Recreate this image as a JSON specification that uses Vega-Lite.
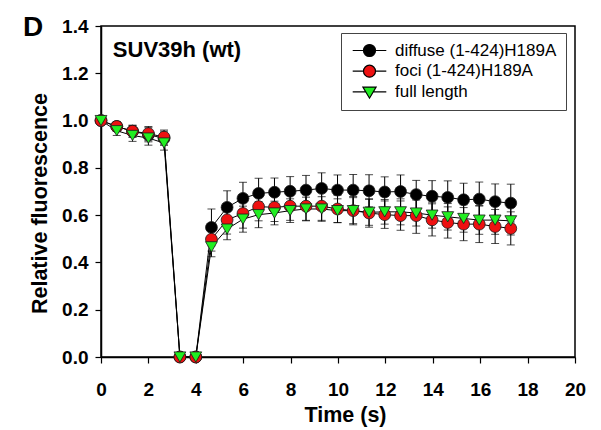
{
  "$schema": "https://vega.github.io/schema/vega-lite/v6.json",
  "width": 474,
  "height": 331,
  "autosize": {"type": "none"},
  "padding": {"left": 101, "top": 26, "right": 26, "bottom": 73},
  "background": "white",
  "title": {
    "text": "D",
    "anchor": "start",
    "frame": "group",
    "fontSize": 28,
    "fontWeight": "bold",
    "font": "Liberation Sans",
    "color": "black",
    "baseline": "alphabetic",
    "dx": -78,
    "dy": 47,
    "offset": 0
  },
  "config": {
    "view": {"stroke": "black", "strokeWidth": 1.5},
    "axis": {
      "domainColor": "black",
      "domainWidth": 1.5,
      "tickColor": "black",
      "tickWidth": 1.2,
      "tickSize": 6,
      "grid": false,
      "labelFont": "Liberation Sans",
      "labelFontSize": 19,
      "labelFontWeight": "bold",
      "labelColor": "black",
      "titleFont": "Liberation Sans",
      "titleFontSize": 21.5,
      "titleFontWeight": "bold",
      "titleColor": "black"
    },
    "legend": {
      "labelFont": "Liberation Sans",
      "labelFontSize": 17,
      "labelColor": "black",
      "labelLimit": 300
    }
  },
  "resolve": {"scale": {"shape": "independent", "color": "independent"}},
  "datasets": {
    "frap": [
      {"t": 0, "s": "diffuse (1-424)H189A", "v": 1.0, "e": 0.01},
      {"t": 0.665, "s": "diffuse (1-424)H189A", "v": 0.975, "e": 0.02},
      {"t": 1.33, "s": "diffuse (1-424)H189A", "v": 0.955, "e": 0.025},
      {"t": 2.0, "s": "diffuse (1-424)H189A", "v": 0.94, "e": 0.03},
      {"t": 2.66, "s": "diffuse (1-424)H189A", "v": 0.925, "e": 0.03},
      {"t": 3.33, "s": "diffuse (1-424)H189A", "v": 0.0, "e": 0.0},
      {"t": 4.0, "s": "diffuse (1-424)H189A", "v": 0.0, "e": 0.0},
      {"t": 4.66, "s": "diffuse (1-424)H189A", "v": 0.548, "e": 0.078},
      {"t": 5.32, "s": "diffuse (1-424)H189A", "v": 0.633, "e": 0.07},
      {"t": 5.99, "s": "diffuse (1-424)H189A", "v": 0.671, "e": 0.068},
      {"t": 6.65, "s": "diffuse (1-424)H189A", "v": 0.692, "e": 0.064},
      {"t": 7.32, "s": "diffuse (1-424)H189A", "v": 0.697, "e": 0.06},
      {"t": 7.98, "s": "diffuse (1-424)H189A", "v": 0.701, "e": 0.062},
      {"t": 8.65, "s": "diffuse (1-424)H189A", "v": 0.706, "e": 0.062},
      {"t": 9.31, "s": "diffuse (1-424)H189A", "v": 0.713, "e": 0.066},
      {"t": 9.98, "s": "diffuse (1-424)H189A", "v": 0.706, "e": 0.064},
      {"t": 10.64, "s": "diffuse (1-424)H189A", "v": 0.706, "e": 0.066},
      {"t": 11.31, "s": "diffuse (1-424)H189A", "v": 0.703, "e": 0.068},
      {"t": 11.97, "s": "diffuse (1-424)H189A", "v": 0.698, "e": 0.064},
      {"t": 12.64, "s": "diffuse (1-424)H189A", "v": 0.7, "e": 0.07},
      {"t": 13.3, "s": "diffuse (1-424)H189A", "v": 0.687, "e": 0.06},
      {"t": 13.97, "s": "diffuse (1-424)H189A", "v": 0.68, "e": 0.066},
      {"t": 14.63, "s": "diffuse (1-424)H189A", "v": 0.675, "e": 0.07},
      {"t": 15.3, "s": "diffuse (1-424)H189A", "v": 0.665, "e": 0.07},
      {"t": 15.96, "s": "diffuse (1-424)H189A", "v": 0.668, "e": 0.072},
      {"t": 16.63, "s": "diffuse (1-424)H189A", "v": 0.657, "e": 0.075},
      {"t": 17.29, "s": "diffuse (1-424)H189A", "v": 0.651, "e": 0.08},
      {"t": 0, "s": "foci (1-424)H189A", "v": 1.0, "e": 0.01},
      {"t": 0.665, "s": "foci (1-424)H189A", "v": 0.975, "e": 0.02},
      {"t": 1.33, "s": "foci (1-424)H189A", "v": 0.955, "e": 0.025},
      {"t": 2.0, "s": "foci (1-424)H189A", "v": 0.945, "e": 0.03},
      {"t": 2.66, "s": "foci (1-424)H189A", "v": 0.93, "e": 0.03},
      {"t": 3.33, "s": "foci (1-424)H189A", "v": 0.0, "e": 0.0},
      {"t": 4.0, "s": "foci (1-424)H189A", "v": 0.0, "e": 0.0},
      {"t": 4.66, "s": "foci (1-424)H189A", "v": 0.498, "e": 0.05},
      {"t": 5.32, "s": "foci (1-424)H189A", "v": 0.58, "e": 0.06},
      {"t": 5.99, "s": "foci (1-424)H189A", "v": 0.607, "e": 0.062},
      {"t": 6.65, "s": "foci (1-424)H189A", "v": 0.636, "e": 0.06},
      {"t": 7.32, "s": "foci (1-424)H189A", "v": 0.633, "e": 0.06},
      {"t": 7.98, "s": "foci (1-424)H189A", "v": 0.638, "e": 0.06},
      {"t": 8.65, "s": "foci (1-424)H189A", "v": 0.638, "e": 0.06},
      {"t": 9.31, "s": "foci (1-424)H189A", "v": 0.638, "e": 0.06},
      {"t": 9.98, "s": "foci (1-424)H189A", "v": 0.626, "e": 0.058},
      {"t": 10.64, "s": "foci (1-424)H189A", "v": 0.619, "e": 0.06},
      {"t": 11.31, "s": "foci (1-424)H189A", "v": 0.609, "e": 0.06},
      {"t": 11.97, "s": "foci (1-424)H189A", "v": 0.602, "e": 0.058},
      {"t": 12.64, "s": "foci (1-424)H189A", "v": 0.598, "e": 0.062},
      {"t": 13.3, "s": "foci (1-424)H189A", "v": 0.598, "e": 0.075},
      {"t": 13.97, "s": "foci (1-424)H189A", "v": 0.58, "e": 0.068},
      {"t": 14.63, "s": "foci (1-424)H189A", "v": 0.569, "e": 0.066},
      {"t": 15.3, "s": "foci (1-424)H189A", "v": 0.562, "e": 0.07},
      {"t": 15.96, "s": "foci (1-424)H189A", "v": 0.562, "e": 0.078},
      {"t": 16.63, "s": "foci (1-424)H189A", "v": 0.552, "e": 0.072},
      {"t": 17.29, "s": "foci (1-424)H189A", "v": 0.544, "e": 0.07},
      {"t": 0, "s": "full length", "v": 1.0, "e": 0.01},
      {"t": 0.665, "s": "full length", "v": 0.957, "e": 0.02},
      {"t": 1.33, "s": "full length", "v": 0.937, "e": 0.025},
      {"t": 2.0, "s": "full length", "v": 0.926, "e": 0.03},
      {"t": 2.66, "s": "full length", "v": 0.905, "e": 0.03},
      {"t": 3.33, "s": "full length", "v": 0.0, "e": 0.0},
      {"t": 4.0, "s": "full length", "v": 0.0, "e": 0.0},
      {"t": 4.66, "s": "full length", "v": 0.466, "e": 0.042},
      {"t": 5.32, "s": "full length", "v": 0.541, "e": 0.045},
      {"t": 5.99, "s": "full length", "v": 0.583, "e": 0.055},
      {"t": 6.65, "s": "full length", "v": 0.602, "e": 0.055},
      {"t": 7.32, "s": "full length", "v": 0.609, "e": 0.05},
      {"t": 7.98, "s": "full length", "v": 0.619, "e": 0.05},
      {"t": 8.65, "s": "full length", "v": 0.626, "e": 0.05},
      {"t": 9.31, "s": "full length", "v": 0.626, "e": 0.052},
      {"t": 9.98, "s": "full length", "v": 0.619, "e": 0.05},
      {"t": 10.64, "s": "full length", "v": 0.619, "e": 0.055},
      {"t": 11.31, "s": "full length", "v": 0.612, "e": 0.055},
      {"t": 11.97, "s": "full length", "v": 0.614, "e": 0.052},
      {"t": 12.64, "s": "full length", "v": 0.614, "e": 0.055},
      {"t": 13.3, "s": "full length", "v": 0.609, "e": 0.055},
      {"t": 13.97, "s": "full length", "v": 0.6, "e": 0.055},
      {"t": 14.63, "s": "full length", "v": 0.593, "e": 0.056},
      {"t": 15.3, "s": "full length", "v": 0.586, "e": 0.058},
      {"t": 15.96, "s": "full length", "v": 0.579, "e": 0.06},
      {"t": 16.63, "s": "full length", "v": 0.579, "e": 0.06},
      {"t": 17.29, "s": "full length", "v": 0.576, "e": 0.06}
    ]
  },
  "layer": [
    {
      "data": {"name": "frap"},
      "mark": {"type": "line", "color": "black", "strokeWidth": 1},
      "encoding": {
        "x": {
          "field": "t",
          "type": "quantitative",
          "title": "Time (s)",
          "scale": {"domain": [0, 20], "nice": false, "zero": false},
          "axis": {"values": [0, 2, 4, 6, 8, 10, 12, 14, 16, 18, 20], "labelPadding": 17, "titlePadding": 5, "titleX": 244, "labelFlush": false}
        },
        "y": {
          "field": "v",
          "type": "quantitative",
          "title": "Relative fluorescence",
          "scale": {"domain": [0, 1.4], "nice": false},
          "axis": {"values": [0, 0.2, 0.4, 0.6, 0.8, 1.0, 1.2, 1.4], "format": ".1f", "labelPadding": 7, "titlePadding": 10, "titleY": 177, "labelFlush": false}
        },
        "detail": {"field": "s"}
      }
    },
    {
      "data": {"name": "frap"},
      "mark": {"type": "errorbar", "color": "black", "thickness": 1, "ticks": {"size": 8, "color": "black", "thickness": 1}},
      "encoding": {
        "x": {"field": "t", "type": "quantitative"},
        "y": {"field": "v", "type": "quantitative", "title": "Relative fluorescence"},
        "yError": {"field": "e"},
        "detail": {"field": "s"}
      }
    },
    {
      "data": {"name": "frap"},
      "mark": {"type": "point", "filled": true, "size": 140, "stroke": "#1a1a1a", "strokeWidth": 0.8, "opacity": 1},
      "encoding": {
        "x": {"field": "t", "type": "quantitative"},
        "y": {"field": "v", "type": "quantitative"},
        "color": {
          "field": "s",
          "type": "nominal",
          "scale": {"domain": ["diffuse (1-424)H189A", "foci (1-424)H189A", "full length"], "range": ["#000000", "#ee1111", "#22ee22"]},
          "legend": null
        },
        "shape": {
          "field": "s",
          "type": "nominal",
          "scale": {"domain": ["diffuse (1-424)H189A", "foci (1-424)H189A", "full length"], "range": ["circle", "circle", "triangle-down"]},
          "legend": null
        }
      }
    },
    {
      "data": {"name": "frap"},
      "transform": [{"filter": "false"}],
      "mark": {"type": "point", "filled": true, "size": 144, "stroke": "black", "strokeWidth": 1.2, "opacity": 1},
      "encoding": {
        "x": {"field": "t", "type": "quantitative"},
        "y": {"field": "v", "type": "quantitative"},
        "color": {
          "field": "s",
          "type": "nominal",
          "scale": {"domain": ["diffuse (1-424)H189A", "foci (1-424)H189A", "full length"], "range": ["#000000", "#ee1111", "#22ee22"]},
          "legend": {
            "title": null,
            "orient": "none",
            "legendX": 240,
            "legendY": 7,
            "padding": 9,
            "strokeColor": "#444444",
            "fillColor": "white",
            "symbolSize": 144,
            "symbolOffset": 11,
            "labelOffset": 17,
            "labelLimit": 300,
            "rowPadding": 2.7,
            "symbolStrokeColor": "black",
            "symbolStrokeWidth": 1.2,
            "encode": {"legend": {"update": {"strokeWidth": {"value": 1.5}}}}
          }
        },
        "shape": {
          "field": "s",
          "type": "nominal",
          "scale": {"domain": ["diffuse (1-424)H189A", "foci (1-424)H189A", "full length"], "range": ["M-2.8,0H-1M1,0H2.8M-1,0A1,1 0 1,1 1,0A1,1 0 1,1 -1,0Z", "M-2.8,0H-1M1,0H2.8M-1,0A1,1 0 1,1 1,0A1,1 0 1,1 -1,0Z", "M-2.8,0H-0.62M0.62,0H2.8M-1.1,-0.8L1.1,-0.8L0,1.05Z"]},
          "legend": {
            "title": null,
            "orient": "none",
            "legendX": 240,
            "legendY": 7,
            "padding": 9,
            "strokeColor": "#444444",
            "fillColor": "white",
            "symbolSize": 144,
            "symbolOffset": 11,
            "labelOffset": 17,
            "labelLimit": 300,
            "rowPadding": 2.7,
            "symbolStrokeColor": "black",
            "symbolStrokeWidth": 1.2,
            "encode": {"legend": {"update": {"strokeWidth": {"value": 1.5}}}}
          }
        }
      }
    },
    {
      "data": {"values": [{"label": "SUV39h (wt)"}]},
      "mark": {"type": "text", "align": "left", "baseline": "alphabetic", "fontSize": 22, "fontWeight": "bold", "font": "Liberation Sans", "color": "black"},
      "encoding": {
        "x": {"datum": 0.5, "type": "quantitative"},
        "y": {"datum": 1.27, "type": "quantitative"},
        "text": {"field": "label", "type": "nominal"}
      }
    }
  ]
}
